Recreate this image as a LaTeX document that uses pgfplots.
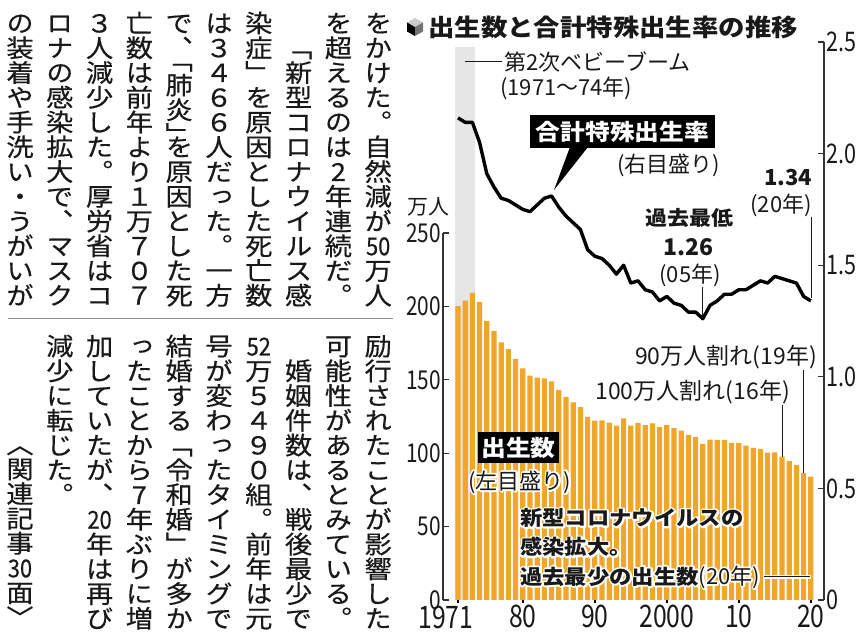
\documentclass[border=0pt]{standalone}
\usepackage{graphicx}
\usepackage{pgfplots}
\usepackage{pgfplotstable}
\pgfplotsset{compat=1.18}
\usepackage{fontspec}
\setmainfont{Noto Sans CJK JP}
\newfontfamily\jp{Noto Sans CJK JP}
\newfontfamily\jpb{Noto Sans CJK JP}[FakeStretch=1.1]
\newfontfamily\vf{Noto Sans CJK JP}[FakeStretch=1.1,FakeBold=0.4,RawFeature=+vert]
\newfontfamily\tnum{Noto Sans CJK JP}[FakeStretch=0.8]
\newcommand\tfx{\tnum\fontsize{31pt}{31pt}\selectfont}
\newcommand\tfy{\tnum\fontsize{26pt}{26pt}\selectfont}
\newcommand\tfr{\tnum\fontsize{27pt}{27pt}\selectfont}
\newcommand\fs[1]{\fontsize{#1pt}{#1pt}\selectfont}
\definecolor{barc}{RGB}{240,166,40}
\definecolor{band}{RGB}{230,230,230}
\definecolor{txt}{RGB}{25,25,25}

\newlength\vem
\setlength\vem{24.75pt}
\newcommand\vcell[1]{\hbox to 38pt{\hss\vrule height .88\vem depth .12\vem width 0pt\relax#1\hss}}
\newcommand\hcell[1]{\hbox to 38pt{\hss\vrule height .44\vem depth .06\vem width 0pt\relax\smash{\raisebox{-.44\vem}{#1}}\hss}}
\newcommand\tcy[1]{\scalebox{0.8}[1]{#1}}
\def\B{\vcell{}}
\def\HA{\hcell{、}}
\def\HB{\hcell{」}}
\ExplSyntaxOn
\NewDocumentCommand\vcol{m}{
  \vbox{\offinterlineskip\vf\fontsize{24.75pt}{24.75pt}\selectfont
    \tl_map_inline:nn {#1}{
      \tl_if_single_token:nTF {##1}
        {\token_if_cs:NTF ##1 {##1}{\vcell{##1}}}
        {\vcell{\tcy{##1}}}
    }}
}
\ExplSyntaxOff

\newcommand\halotext[4]{%
  \node[anchor=#3, inner sep=0, text=white] at (#1,#2) {\special{pdf:literal direct 2 Tr 3.6 w 1 j}#4\special{pdf:literal direct 0 Tr}};
  \node[anchor=#3, inner sep=0, text=txt] at (#1,#2) {#4};}

\pgfplotstableread{
year births tfr
1971 200.1 2.16
1972 203.9 2.14
1973 209.2 2.14
1974 203.0 2.05
1975 190.1 1.91
1976 183.3 1.85
1977 175.5 1.80
1978 170.9 1.79
1979 164.3 1.77
1980 157.7 1.75
1981 152.9 1.74
1982 151.5 1.77
1983 150.9 1.80
1984 149.0 1.81
1985 143.2 1.76
1986 138.3 1.72
1987 134.7 1.69
1988 131.4 1.66
1989 124.7 1.57
1990 122.2 1.54
1991 122.3 1.53
1992 120.9 1.50
1993 118.8 1.46
1994 123.8 1.50
1995 118.7 1.42
1996 120.7 1.43
1997 119.2 1.39
1998 120.3 1.38
1999 117.8 1.34
2000 119.1 1.36
2001 117.1 1.33
2002 115.4 1.32
2003 112.4 1.29
2004 111.1 1.29
2005 106.3 1.26
2006 109.3 1.32
2007 109.0 1.34
2008 109.1 1.37
2009 107.0 1.37
2010 107.1 1.39
2011 105.1 1.39
2012 103.7 1.41
2013 103.0 1.43
2014 100.4 1.42
2015 100.6 1.45
2016 97.7 1.44
2017 94.6 1.43
2018 91.8 1.42
2019 86.5 1.36
2020 84.1 1.34
}\data

\begin{document}
\begin{tikzpicture}[x=1pt,y=1pt]
\path[use as bounding box] (0,0) rectangle (857,634);

% ---------- vertical article text ----------
\begin{scope}[every node/.style={inner sep=0, text=txt}]
\node[anchor=north] at (378.2,623.5) {\vcol{をかけた。自然減が{50}万人}};
\node[anchor=north] at (338.4,623.5) {\vcol{を超えるのは2年連続だ。}};
\node[anchor=north] at (298.6,623.5) {\vcol{\B 「新型コロナウイルス感}};
\node[anchor=north] at (258.8,623.5) {\vcol{染症」を原因とした死亡数}};
\node[anchor=north] at (219.0,623.5) {\vcol{は３４６６人だった。一方}};
\node[anchor=north] at (179.2,623.5) {\vcol{で\HA 「肺炎\HB を原因とした死}};
\node[anchor=north] at (139.4,623.5) {\vcol{亡数は前年より１万７０７}};
\node[anchor=north] at (99.6,623.5) {\vcol{３人減少した。厚労省はコ}};
\node[anchor=north] at (59.8,623.5) {\vcol{ロナの感染拡大で、マスク}};
\node[anchor=north] at (20.0,623.5) {\vcol{の装着や手洗い・うがいが}};

\node[anchor=north] at (378.2,300.5) {\vcol{励行されたことが影響した}};
\node[anchor=north] at (338.4,300.5) {\vcol{可能性があるとみている。}};
\node[anchor=north] at (298.6,300.5) {\vcol{\B 婚姻件数は、戦後最少で}};
\node[anchor=north] at (258.8,300.5) {\vcol{{52}万５４９０組。前年は元}};
\node[anchor=north] at (219.0,300.5) {\vcol{号が変わったタイミングで}};
\node[anchor=north] at (179.2,300.5) {\vcol{結婚する「令和婚」が多か}};
\node[anchor=north] at (139.4,300.5) {\vcol{ったことから7年ぶりに増}};
\node[anchor=north] at (99.6,300.5) {\vcol{加していたが、{20}年は再び}};
\node[anchor=north] at (59.8,300.5) {\vcol{減少に転じた。}};
\node[anchor=south] at (20.0,4) {\vcol{︿関連記事{30}面﹀}};
\end{scope}
\draw[line width=1.5pt, black!45] (8,315.5)--(393,315.5);

% ---------- left axis : births (bars) ----------
\begin{axis}[at={(443pt,34pt)}, anchor=south west, scale only axis,
  width=381pt, height=367pt, xmin=1968.92, xmax=2021.83, ymin=0, ymax=250,
  clip=false, axis x line=none, axis y line*=left,
  ytick={0,50,100,150,200,250}, yticklabels={0,50,100,150,200,250},
  ytick align=inside, major tick length=6pt,
  y axis line style={line width=1.3pt, draw=black!80},
  ytick style={line width=1.3pt, draw=black!80},
  yticklabel style={font=\tfy, anchor=east, inner sep=2pt, text=txt},
  ybar, bar width=5.2pt]
\fill[band] (axis cs:1970.6,0) rectangle (axis cs:1973.35,376.7);
\addplot[fill=barc, draw=none] table[x=year,y=births]{\data};
\end{axis}

% ---------- x ticks ----------
\begin{axis}[at={(443pt,34pt)}, anchor=south west, scale only axis,
  width=381pt, height=367pt, xmin=1968.92, xmax=2021.83, ymin=0, ymax=1,
  axis y line=none, axis x line*=bottom, x axis line style={draw=none},
  xtick={1980,1990,2000,2010,2020}, xticklabels={80,90,2000,10,20},
  extra x ticks={1971}, extra x tick labels={1971},
  extra x tick style={xticklabel style={xshift=-12pt, yshift=-1pt}},
  xtick align=outside, major tick length=3.5pt,
  xtick style={line width=2.2pt, draw=black},
  xticklabel style={font=\tfx, inner sep=1pt, text=txt}]
\end{axis}

% ---------- right axis : TFR (line) ----------
\begin{axis}[at={(443pt,34pt)}, anchor=south west, scale only axis,
  width=381pt, height=558pt, xmin=1968.92, xmax=2021.83, ymin=0, ymax=2.5,
  axis x line=none, axis y line*=right,
  ytick={0,0.5,1,1.5,2,2.5}, yticklabels={0,0.5,1.0,1.5,2.0,2.5},
  ytick align=inside, major tick length=6pt,
  y axis line style={line width=1.3pt, draw=black!80},
  ytick style={line width=1.3pt, draw=black!80},
  yticklabel style={font=\tfr, anchor=west, inner sep=2pt, text=txt}]
\addplot[line width=3.4pt, black, line join=round, mark=none] table[x=year,y=tfr]{\data};
\end{axis}

% ---------- title ----------
\fill[black!20] (415,616)--(423,611.5)--(415,607)--(407,611.5)--cycle;
\fill[black] (407,611.5)--(415,607)--(415,598)--(407,602.5)--cycle;
\fill[black!55] (415,607)--(423,611.5)--(423,602.5)--(415,598)--cycle;
\node[anchor=west, inner sep=0, text=txt] at (428,607) {\jpb\bfseries\fs{24}出生数と合計特殊出生率の推移};

% ---------- annotations ----------
\begin{scope}[every node/.style={inner sep=0, text=txt}]
\draw[line width=1pt, txt] (465,572)--(502,572);
\node[anchor=west] at (504,572) {\jp\fs{22}第2次ベビーブーム};
\node[anchor=west] at (500,546) {\jp\fs{22}(1971〜74年)};
\node[fill=black, text=white, minimum width=185pt, minimum height=33pt] at (622.5,502.5) {\jpb\bfseries\fs{22.5}合計特殊出生率};
\fill[black] (570,487)--(588,487)--(554,444)--cycle;
\node[anchor=west] at (617,469) {\jp\fs{22}(右目盛り)};
\node at (788,456) {\jp\bfseries\fs{22}1.34};
\node at (781,429) {\jp\fs{22}(20年)};
\draw[line width=1pt, txt] (811,417)--(811,336);
\node at (689,416) {\jpb\bfseries\fs{20}過去最低};
\node at (688.5,387) {\jp\bfseries\fs{23}1.26};
\node at (690,359) {\jp\fs{22}(05年)};
\draw[line width=1pt, txt] (702.8,347)--(702.8,318);
\node at (428.5,427) {\jp\fs{21}万人};
\node[anchor=east] at (817,277) {\jp\fs{23}90万人割れ(19年)};
\draw[line width=1pt, txt] (803.6,264)--(803.6,161);
\node[anchor=east] at (790,242) {\jp\fs{23}100万人割れ(16年)};
\draw[line width=1pt, txt] (782,229)--(782,177);
\node[fill=black, text=white, minimum width=81pt, minimum height=31pt] at (518.5,186.5) {\jpb\bfseries\fs{22.5}出生数};
\end{scope}
\halotext{468}{152}{west}{\jp\fs{22}(左目盛り)}
\halotext{520}{116}{west}{\jpb\bfseries\fs{20.3}新型コロナウイルスの}
\halotext{520}{87}{west}{\jpb\bfseries\fs{20.3}感染拡大。}
\halotext{520}{57}{west}{{\jpb\bfseries\fs{20.3}過去最少の出生数}{\jp\fs{22}(20年)}}
\draw[line width=3.5pt, white] (763,57)--(811,57);
\draw[line width=1pt, txt] (764,57)--(810,57);
\end{tikzpicture}
\end{document}
